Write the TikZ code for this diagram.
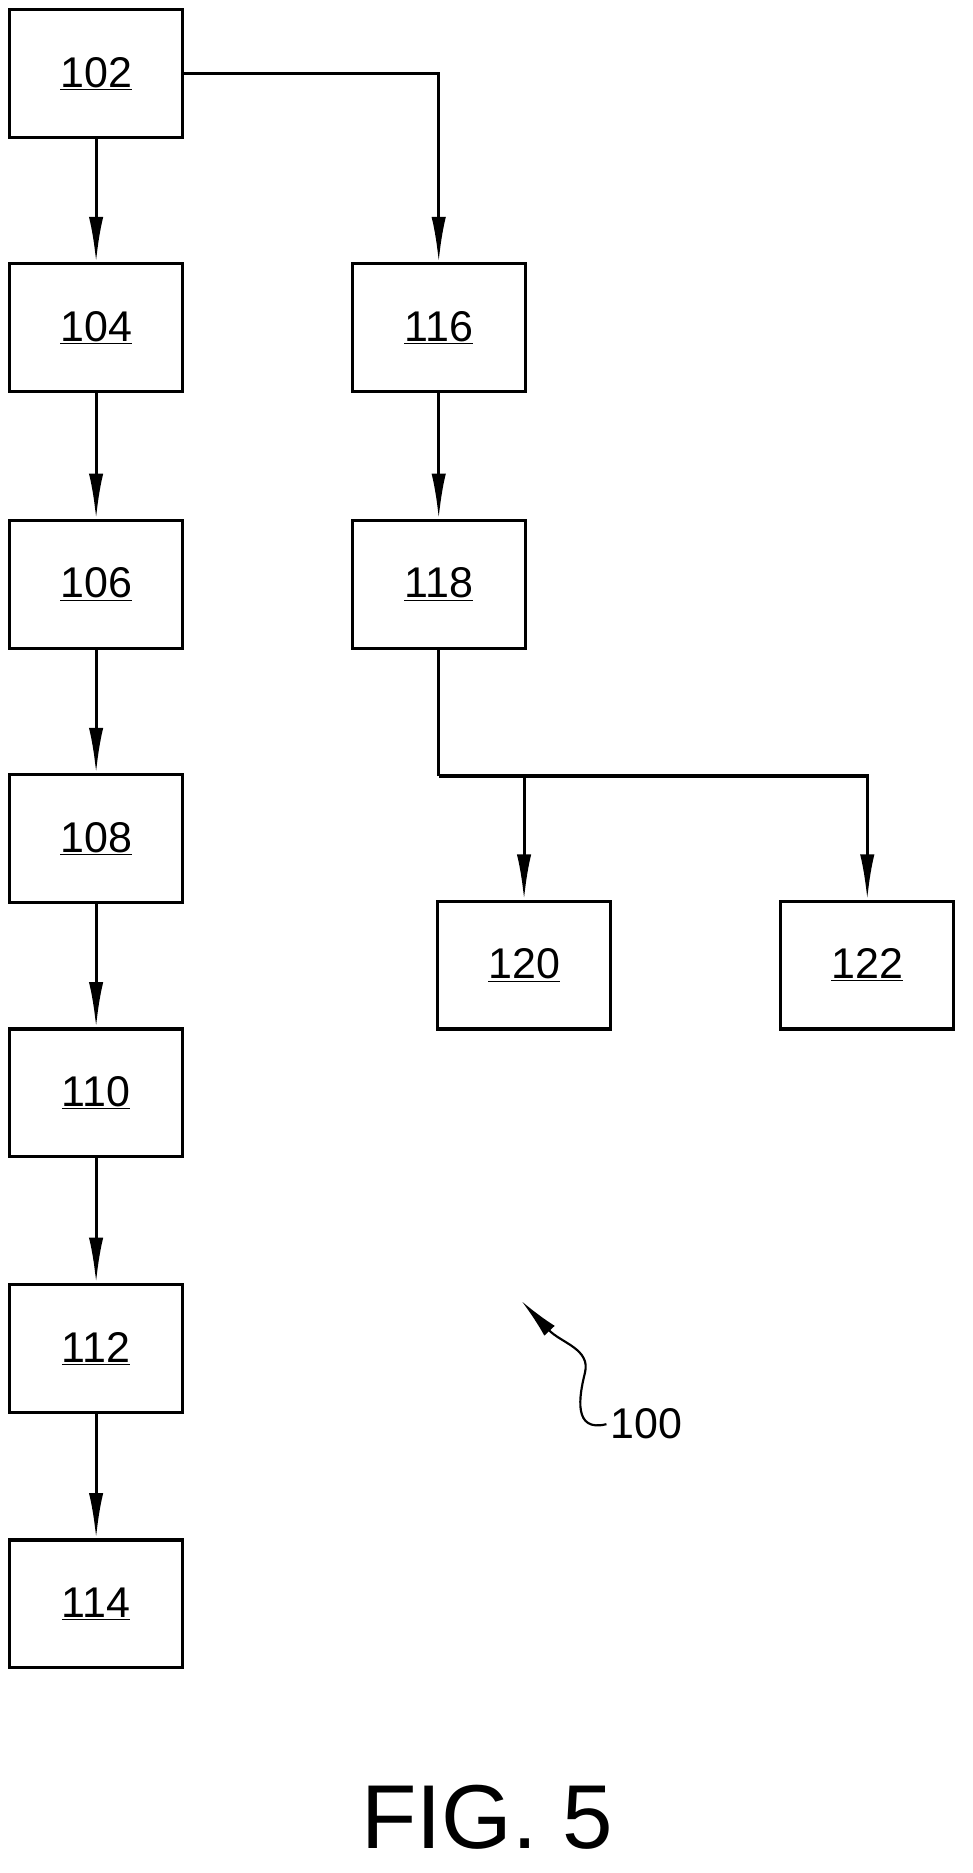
\documentclass[tikz,border=0pt]{standalone}
\usepackage{fontspec}
\setmainfont{Liberation Sans}
\usetikzlibrary{arrows.meta}
\begin{document}
\begin{tikzpicture}[x=1pt,y=-1pt,
  box/.style={draw,line width=2.6pt,minimum width=145pt,minimum height=107pt,inner sep=0pt,font=\fontsize{36}{40}\selectfont},
  arr/.style={line width=2.6pt,-{Latex[length=38pt,width=12pt]}}]
\useasboundingbox (0,0) rectangle (815,1569);
\newcommand{\lab}[1]{\underline{#1}}
\node[box] (b102) at (80.5,61.5) {\lab{102}};
\node[box] (b104) at (80.5,274.5) {\lab{104}};
\node[box] (b106) at (80.5,489.5) {\lab{106}};
\node[box] (b108) at (80.5,702.5) {\lab{108}};
\node[box] (b110) at (80.5,915.5) {\lab{110}};
\node[box] (b112) at (80.5,1129.5) {\lab{112}};
\node[box] (b114) at (80.5,1343.5) {\lab{114}};
\node[box] (b116) at (367.5,274.5) {\lab{116}};
\node[box] (b118) at (367.5,489.5) {\lab{118}};
\node[box] (b120) at (439,808.5) {\lab{120}};
\node[box] (b122) at (726.5,808.5) {\lab{122}};
\draw[arr] (b102) -- (b104);
\draw[arr] (b104) -- (b106);
\draw[arr] (b106) -- (b108);
\draw[arr] (b108) -- (b110);
\draw[arr] (b110) -- (b112);
\draw[arr] (b112) -- (b114);
\draw[arr] (b102.east) -| (b116.north);
\draw[arr] (b116) -- (b118);
\coordinate (j) at (367.5,650);
\draw[line width=2.6pt] (b118.south) -- (j);
\draw[arr] (j) -| (b120.north);
\draw[arr] (j) -| (b122.north);
\node[font=\fontsize{36}{40}\selectfont,anchor=west] (l100) at (508,1193) {100};
\coordinate (t100) at (437,1090);
\draw[line width=1.8pt,-{Latex[length=34pt,width=12pt]}] (l100.west) .. controls (480,1200) and (485,1170) .. (490,1150) .. controls (495,1130) and (470,1125) .. (t100);
\node[font=\fontsize{76}{86}\selectfont] (fig) at (408,1522) {FIG. 5};
\end{tikzpicture}
\end{document}
